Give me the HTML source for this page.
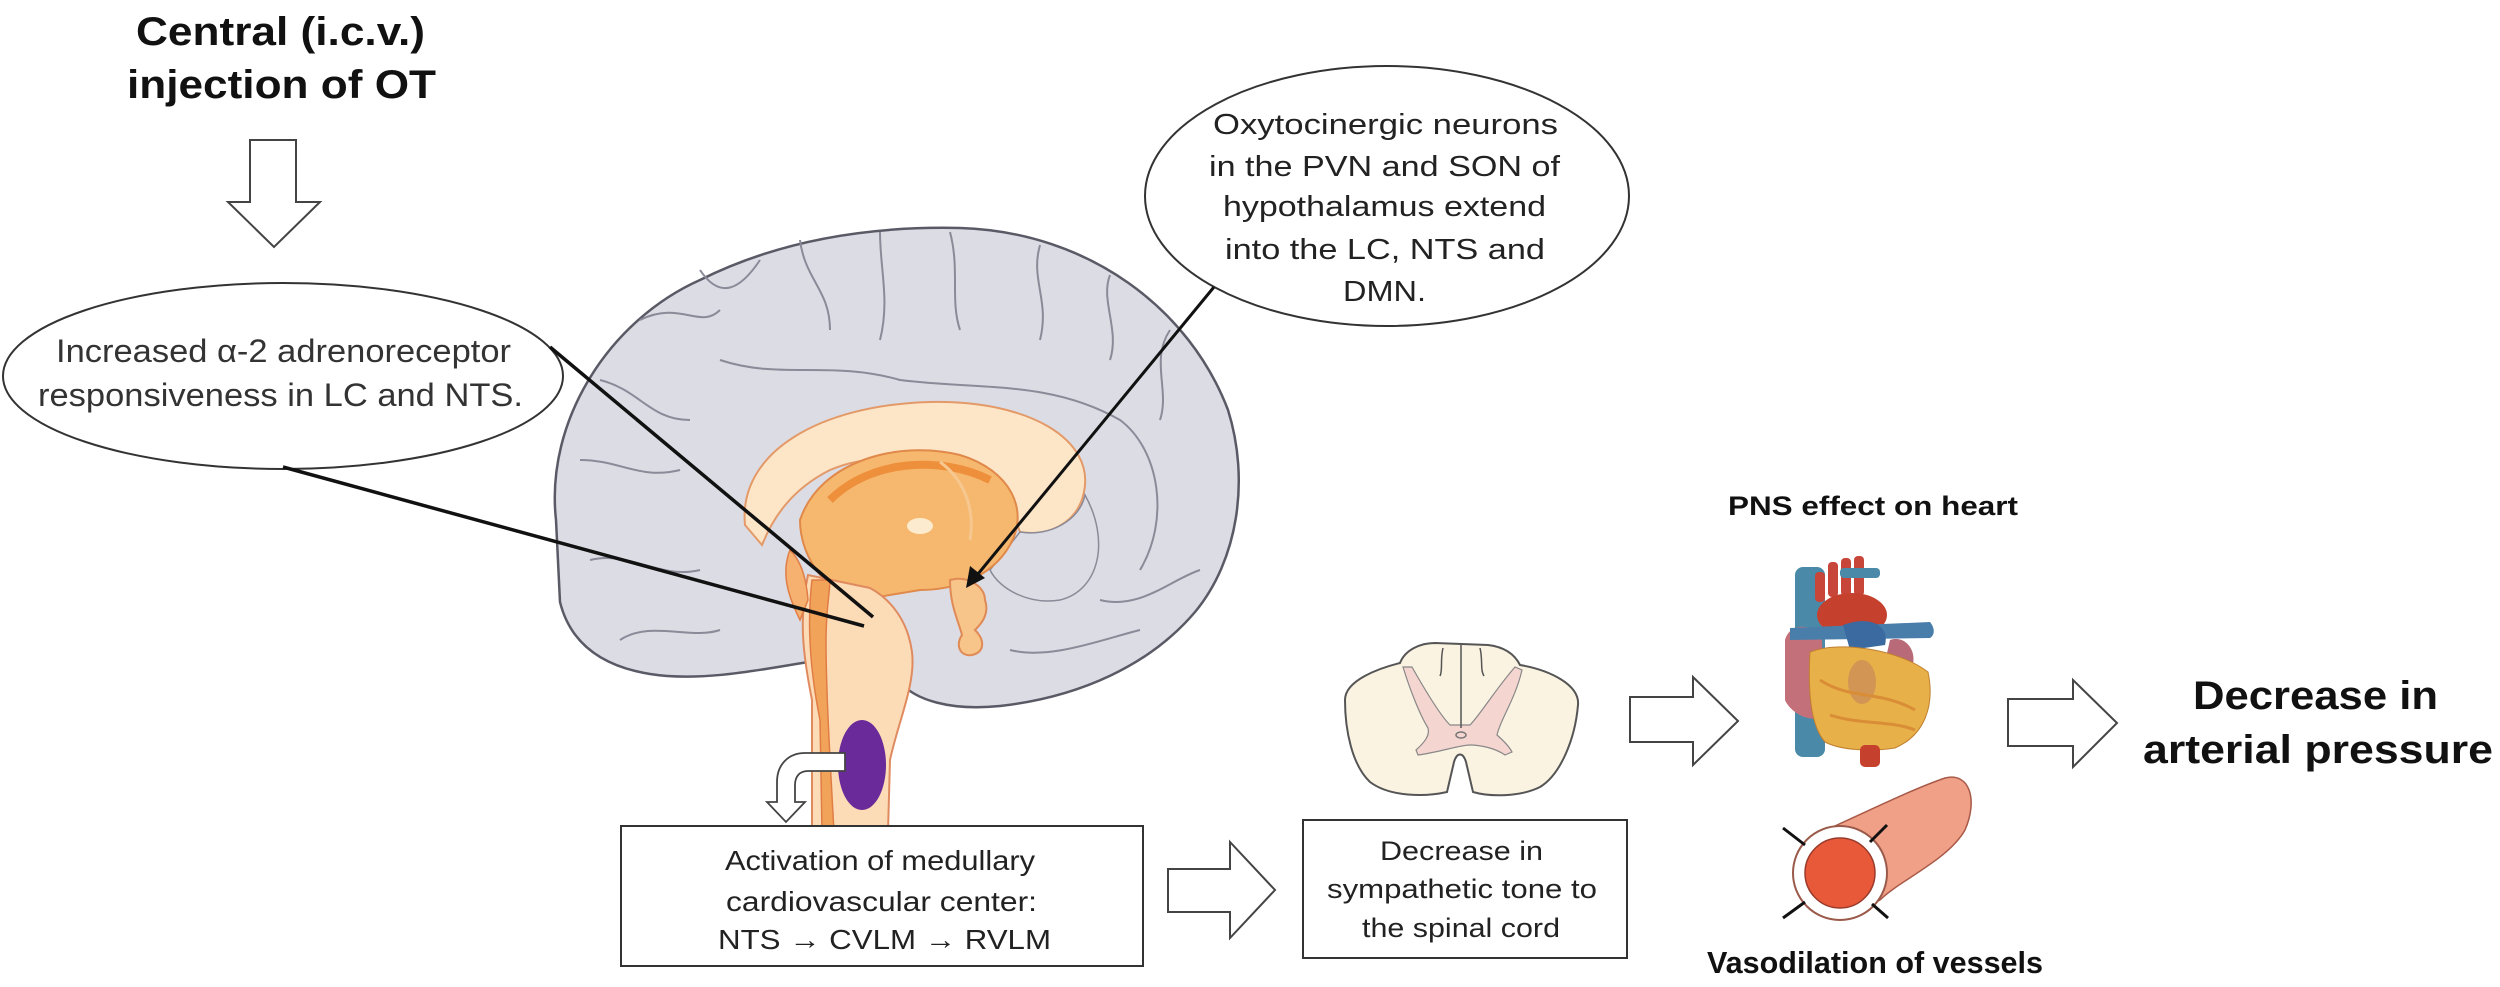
<!DOCTYPE html>
<html><head><meta charset="utf-8"><style>
html,body{margin:0;padding:0;background:#fff;}
svg{display:block;}
text{font-family:"Liberation Sans",Arial,sans-serif;}
</style></head><body>
<svg width="2500" height="987" viewBox="0 0 2500 987" xmlns="http://www.w3.org/2000/svg">
<rect width="2500" height="987" fill="#fff"/>

<!-- Title -->
<text x="136" y="45" font-size="40" font-weight="bold" fill="#111" textLength="289" lengthAdjust="spacingAndGlyphs">Central (i.c.v.)</text>
<text x="127" y="98" font-size="40" font-weight="bold" fill="#111" textLength="309" lengthAdjust="spacingAndGlyphs">injection of OT</text>

<!-- Down arrow -->
<path d="M250,140 L296,140 L296,202 L320,202 L274,247 L228,202 L250,202 Z" fill="#fff" stroke="#444" stroke-width="2"/>

<!-- Brain cerebrum -->
<path d="M556,520 C545,420 610,320 700,280 C780,240 870,226 960,228 C1090,232 1190,310 1228,410 C1250,480 1238,560 1195,612 C1150,665 1080,697 1000,706 C950,711 915,700 900,682 L808,662 C760,670 700,682 650,674 C600,666 570,642 560,602 Z" fill="#dcdce4" stroke="#5a5a66" stroke-width="2.5"/>
<!-- gyri lines -->
<g fill="none" stroke="#8a8a98" stroke-width="2">
<path d="M640,320 C680,300 700,330 720,310"/>
<path d="M700,270 C720,300 740,290 760,260"/>
<path d="M800,240 C805,280 830,290 830,330"/>
<path d="M880,232 C880,270 890,300 880,340"/>
<path d="M950,232 C960,270 950,300 960,330"/>
<path d="M1040,245 C1030,280 1050,300 1040,340"/>
<path d="M1110,275 C1100,300 1120,330 1110,360"/>
<path d="M1170,330 C1150,360 1170,390 1160,420"/>
<path d="M600,380 C640,390 650,420 690,420"/>
<path d="M580,460 C620,460 640,480 680,470"/>
<path d="M590,560 C630,550 660,580 700,570"/>
<path d="M620,640 C650,620 690,640 720,630"/>
<path d="M720,360 C780,380 830,360 900,380 C980,390 1050,380 1120,420 C1160,450 1170,520 1140,570"/>
<path d="M1100,600 C1140,610 1170,580 1200,570"/>
<path d="M1010,650 C1050,660 1100,640 1140,630"/>
</g>
<!-- corpus callosum -->
<path d="M745,525 C738,452 820,405 930,402 C1030,400 1095,440 1084,492 C1078,522 1050,537 1020,532 C1000,472 900,440 830,470 C790,490 772,520 762,545 Z" fill="#fde6c8" stroke="#e39a68" stroke-width="2"/>
<!-- gray hole under callosum right -->
<path d="M1020,532 C1050,537 1080,520 1085,495 C1110,540 1100,590 1060,600 C1030,605 1000,590 990,570 Z" fill="#dcdce4" stroke="#8a8a98" stroke-width="1.5"/>
<!-- thalamus -->
<path d="M800,520 C820,460 900,440 960,455 C1010,470 1030,510 1010,545 C990,580 950,590 920,590 L860,600 C830,595 800,560 800,520 Z" fill="#f6b86e" stroke="#e0894a" stroke-width="2"/>
<path d="M830,500 C870,460 940,455 990,480" fill="none" stroke="#ee8f3c" stroke-width="8"/>
<path d="M940,462 C965,480 975,510 970,540" fill="none" stroke="#f6c890" stroke-width="3"/>
<ellipse cx="920" cy="526" rx="13" ry="8" fill="#fdebcf"/>
<!-- hypothalamus / pituitary -->
<path d="M950,580 C965,575 985,585 985,600 C990,615 980,625 975,630 C985,640 985,652 972,655 C960,657 955,645 962,635 C958,620 950,605 950,580 Z" fill="#f7c489" stroke="#e08a55" stroke-width="2"/>
<!-- brainstem -->
<path d="M808,575 C798,620 804,660 812,700 L812,832 L888,832 L890,760 C898,722 916,684 912,652 C908,622 892,600 870,588 Z" fill="#fcdcb6" stroke="#e08a60" stroke-width="2"/>
<path d="M812,580 C806,630 812,680 820,720 L822,832 L834,832 C830,760 826,690 826,640 C826,610 830,590 830,580 Z" fill="#f2a35a" stroke="#e07d45" stroke-width="1.5"/>
<path d="M790,550 C800,560 806,575 808,600 L800,620 C790,600 780,575 790,550 Z" fill="#f6b070" stroke="#e07d45" stroke-width="1.5"/>

<!-- purple nucleus -->
<ellipse cx="862" cy="765" rx="24" ry="45" fill="#6a2a9a"/>
<!-- bent arrow -->
<path d="M845,753 L805,753 C788,753 777,765 777,782 L777,802 L767,802 L786,822 L805,802 L795,802 L795,785 C795,776 800,771 808,771 L845,771 Z" fill="#fff" stroke="#444" stroke-width="1.8"/>

<!-- Ellipse 1 -->
<ellipse cx="283" cy="376" rx="280" ry="93" fill="#fff" stroke="#333" stroke-width="2"/>
<text x="56" y="362" font-size="32" fill="#333" textLength="455" lengthAdjust="spacingAndGlyphs">Increased α-2 adrenoreceptor</text>
<text x="38" y="406" font-size="32" fill="#333" textLength="485" lengthAdjust="spacingAndGlyphs">responsiveness in LC and NTS.</text>
<line x1="550" y1="347" x2="873" y2="617" stroke="#111" stroke-width="3.5"/>
<line x1="283" y1="467" x2="864" y2="626" stroke="#111" stroke-width="3.5"/>

<!-- Ellipse 2 -->
<ellipse cx="1387" cy="196" rx="242" ry="130" fill="#fff" stroke="#333" stroke-width="2"/>
<text x="1213" y="134" font-size="29" fill="#222" textLength="345" lengthAdjust="spacingAndGlyphs">Oxytocinergic neurons</text>
<text x="1209" y="176" font-size="29" fill="#222" textLength="351" lengthAdjust="spacingAndGlyphs">in the PVN and SON of</text>
<text x="1223" y="216" font-size="29" fill="#222" textLength="323" lengthAdjust="spacingAndGlyphs">hypothalamus extend</text>
<text x="1225" y="259" font-size="29" fill="#222" textLength="320" lengthAdjust="spacingAndGlyphs">into the LC, NTS and</text>
<text x="1343" y="301" font-size="29" fill="#222" textLength="83" lengthAdjust="spacingAndGlyphs">DMN.</text>
<line x1="1214" y1="287" x2="978" y2="574" stroke="#111" stroke-width="3"/>
<path d="M966,588 L970,566 L985,578 Z" fill="#111"/>

<!-- Box 1 -->
<rect x="621" y="826" width="522" height="140" fill="#fff" stroke="#333" stroke-width="2"/>
<text x="725" y="870" font-size="28" fill="#222" textLength="310" lengthAdjust="spacingAndGlyphs">Activation of medullary</text>
<text x="726" y="911" font-size="28" fill="#222" textLength="311" lengthAdjust="spacingAndGlyphs">cardiovascular center:</text>
<text x="718" y="949" font-size="28" fill="#222" textLength="333" lengthAdjust="spacingAndGlyphs">NTS → CVLM → RVLM</text>

<!-- Arrow box1->box2 -->
<path d="M1168,869 L1230,869 L1230,842 L1275,890 L1230,938 L1230,912 L1168,912 Z" fill="#fff" stroke="#444" stroke-width="2"/>

<!-- Box 2 -->
<rect x="1303" y="820" width="324" height="138" fill="#fff" stroke="#333" stroke-width="2"/>
<text x="1380" y="860" font-size="27" fill="#222" textLength="163" lengthAdjust="spacingAndGlyphs">Decrease in</text>
<text x="1327" y="898" font-size="27" fill="#222" textLength="270" lengthAdjust="spacingAndGlyphs">sympathetic tone to</text>
<text x="1362" y="937" font-size="27" fill="#222" textLength="198" lengthAdjust="spacingAndGlyphs">the spinal cord</text>

<!-- Spinal cord -->
<path d="M1345,700 C1345,680 1380,668 1400,663 C1405,650 1420,643 1435,643 L1488,645 C1505,647 1515,655 1520,665 C1550,670 1580,685 1578,705 C1575,740 1560,775 1540,787 C1520,797 1490,797 1473,792 L1466,762 C1463,752 1457,752 1454,762 L1447,792 C1425,797 1390,797 1370,782 C1352,765 1345,730 1345,700 Z" fill="#fbf3e2" stroke="#555" stroke-width="2"/>
<path d="M1403,667 L1412,667 C1425,690 1440,715 1450,725 L1470,725 C1480,715 1495,690 1515,667 L1522,670 C1515,700 1500,720 1497,735 C1505,742 1510,748 1512,752 L1505,755 C1495,748 1480,745 1470,745 C1460,745 1440,752 1418,755 L1416,750 C1425,742 1430,735 1428,728 C1420,715 1410,690 1403,667 Z" fill="#f5d5d0" stroke="#888" stroke-width="1.2"/>
<line x1="1461" y1="645" x2="1461" y2="728" stroke="#555" stroke-width="1.5"/>
<path d="M1443,648 C1440,660 1443,670 1440,676 M1480,648 C1483,660 1480,670 1484,676" fill="none" stroke="#555" stroke-width="1.5"/>
<ellipse cx="1461" cy="735" rx="5" ry="3" fill="none" stroke="#777" stroke-width="1.5"/>

<!-- Arrow 2 -->
<path d="M1630,697 L1693,697 L1693,677 L1738,721 L1693,765 L1693,742 L1630,742 Z" fill="#fff" stroke="#444" stroke-width="2"/>

<!-- PNS text -->
<text x="1728" y="515" font-size="27" font-weight="bold" fill="#111" textLength="290" lengthAdjust="spacingAndGlyphs">PNS effect on heart</text>

<!-- Heart -->
<g>
<rect x="1795" y="567" width="30" height="190" rx="8" fill="#4a8aa8"/>
<rect x="1815" y="572" width="10" height="30" rx="4" fill="#c8453a"/>
<rect x="1828" y="562" width="10" height="35" rx="4" fill="#c8453a"/>
<rect x="1841" y="558" width="10" height="38" rx="4" fill="#c8453a"/>
<rect x="1854" y="556" width="10" height="40" rx="4" fill="#c8453a"/>
<rect x="1840" y="568" width="40" height="10" rx="4" fill="#4a8aa8"/>
<ellipse cx="1852" cy="615" rx="35" ry="22" fill="#c6402e"/>
<path d="M1785,640 C1790,620 1820,625 1822,640 L1825,715 C1810,725 1790,712 1785,700 Z" fill="#c4707a"/>
<path d="M1790,628 L1930,622 C1935,628 1935,635 1930,638 L1790,640 Z" fill="#4a7eaa"/>
<path d="M1843,625 C1870,615 1890,625 1885,645 L1850,650 Z" fill="#3a6aa0"/>
<path d="M1890,640 C1905,635 1918,650 1912,668 L1885,662 Z" fill="#b86a78"/>
<path d="M1810,652 C1840,640 1900,650 1928,672 C1935,705 1925,735 1895,748 C1870,752 1840,750 1825,742 C1810,725 1808,690 1810,652 Z" fill="#e8b048" stroke="#c08030" stroke-width="1"/>
<ellipse cx="1862" cy="682" rx="14" ry="22" fill="#c98a5a" opacity="0.7"/>
<path d="M1820,680 C1850,700 1880,690 1915,710 M1830,715 C1860,725 1890,720 1915,730" stroke="#d98d36" stroke-width="3" fill="none"/>
<rect x="1860" y="745" width="20" height="22" rx="5" fill="#c6402e"/>
</g>

<!-- Vessel -->
<path d="M1815,835 C1860,815 1910,790 1945,778 C1970,772 1978,800 1965,830 C1948,860 1900,880 1880,900 L1848,915 Z" fill="#f1a088" stroke="#a85a48" stroke-width="1.5"/>
<circle cx="1840" cy="873" r="47" fill="#fff" stroke="#9a5a4a" stroke-width="2"/>
<circle cx="1840" cy="873" r="35" fill="#e8593a" stroke="#9a3a2a" stroke-width="1.5"/>
<g stroke="#111" stroke-width="3">
<line x1="1783" y1="828" x2="1805" y2="845"/><line x1="1887" y1="825" x2="1870" y2="842"/>
<line x1="1783" y1="918" x2="1805" y2="902"/><line x1="1888" y1="918" x2="1872" y2="904"/>
</g>
<text x="1707" y="973" font-size="31" font-weight="bold" fill="#111" textLength="336" lengthAdjust="spacingAndGlyphs">Vasodilation of vessels</text>

<!-- Arrow 3 -->
<path d="M2008,699 L2073,699 L2073,680 L2117,723 L2073,767 L2073,746 L2008,746 Z" fill="#fff" stroke="#444" stroke-width="2"/>

<!-- Result -->
<text x="2193" y="709" font-size="40" font-weight="bold" fill="#111" textLength="245" lengthAdjust="spacingAndGlyphs">Decrease in</text>
<text x="2143" y="763" font-size="40" font-weight="bold" fill="#111" textLength="350" lengthAdjust="spacingAndGlyphs">arterial pressure</text>
</svg>
</body></html>
